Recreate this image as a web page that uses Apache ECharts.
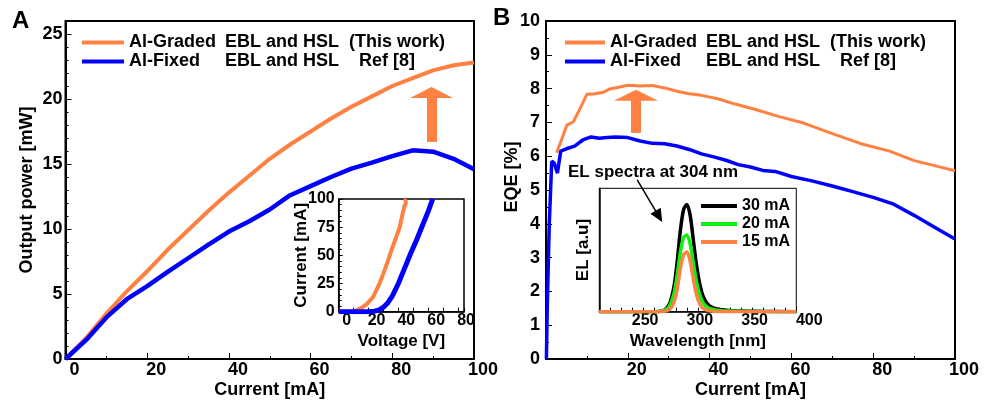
<!DOCTYPE html>
<html>
<head>
<meta charset="utf-8">
<title>Output power and EQE</title>
<script src="https://cdn.jsdelivr.net/npm/echarts@6/dist/echarts.min.js"></script>
<style>
    html, body { margin: 0; padding: 0; background: #fff; }
    #chart { width: 988px; height: 403px; }
</style>
</head>
<body>
<div id="chart"></div>
<script>
// 图A: 输出功率 vs 电流
const currentA = [0, 5, 10, 15, 20, 25, 30, 35, 40, 45, 50, 55, 60, 65, 70, 75, 80, 85, 90, 95, 100];
const powerGraded = [0, 1.6, 3.5, 5.2, 6.75, 8.4, 9.9, 11.4, 12.8, 14.1, 15.4, 16.5, 17.5, 18.5, 19.4, 20.2, 21.0, 21.6, 22.2, 22.6, 22.8];
const powerFixed = [0, 1.45, 3.2, 4.6, 5.6, 6.7, 7.75, 8.8, 9.8, 10.6, 11.5, 12.6, 13.3, 14.0, 14.65, 15.1, 15.6, 16.05, 15.95, 15.4, 14.6];

// 图A插图: I-V
const voltGraded = [0, 10, 13, 16, 19, 23, 27, 30, 33, 36, 39, 40.9, 43, 44.2, 45, 44.8, 45.2];
const ivGraded = [0, 0, 2, 4, 7, 13, 24, 34, 45, 57, 68, 75, 88, 94, 96, 99, 100];
const voltFixed = [0, 10, 20, 24, 27, 30, 33, 36, 40, 44, 48, 52, 56, 60, 63];
const ivFixed = [0, 0, 0, 0.5, 1.5, 4, 8, 14, 25, 38, 51, 63, 76, 89, 100];

// 图B: EQE vs 电流
const currentGradedB = [2.6, 4, 5.1, 6.7, 8.5, 10, 12, 14, 15.6, 18, 20, 23, 26, 29, 32, 35, 38, 42, 46, 51, 57, 63, 70, 77, 84, 90, 95, 100];
const eqeGraded = [6.1, 6.55, 6.92, 7.02, 7.45, 7.83, 7.85, 7.89, 7.99, 8.05, 8.1, 8.08, 8.09, 8.02, 7.92, 7.85, 7.8, 7.7, 7.55, 7.39, 7.17, 6.98, 6.67, 6.37, 6.15, 5.87, 5.72, 5.57];
const currentFixedB = [0.1, 0.3, 0.8, 1.4, 2.0, 2.8, 3.6, 5, 7, 9, 11, 13, 15, 17, 20, 23, 26, 29, 32, 35, 38, 41, 44, 47, 50, 53, 56, 60, 65, 70, 75, 80, 85, 90, 95, 100];
const eqeFixed = [0, 1.5, 4.0, 5.85, 5.8, 5.5, 6.15, 6.22, 6.3, 6.48, 6.57, 6.53, 6.55, 6.57, 6.55, 6.45, 6.38, 6.37, 6.3, 6.2, 6.07, 5.98, 5.88, 5.75, 5.68, 5.58, 5.55, 5.4, 5.27, 5.12, 4.95, 4.78, 4.58, 4.25, 3.9, 3.55];

// 图B插图: EL光谱
const wavelength = [220, 270, 276, 280, 284, 288, 291, 294, 297, 300, 303, 306, 309, 312, 315, 319, 324, 330, 340, 355, 370, 400];
const el30 = [0, 0, 0.005, 0.02, 0.07, 0.22, 0.45, 0.75, 0.95, 1.0, 0.9, 0.66, 0.42, 0.25, 0.14, 0.07, 0.035, 0.02, 0.01, 0.005, 0.002, 0];
const el20 = [0, 0, 0.004, 0.015, 0.05, 0.16, 0.33, 0.55, 0.69, 0.715, 0.63, 0.45, 0.27, 0.15, 0.08, 0.04, 0.02, 0.012, 0.006, 0.003, 0.001, 0];
const el15 = [0, 0, 0, 0.005, 0.02, 0.08, 0.2, 0.4, 0.53, 0.556, 0.47, 0.3, 0.15, 0.07, 0.03, 0.012, 0.005, 0.002, 0, 0, 0, 0];

const nameGraded = 'Al-Graded EBL and HSL (This work)';
const nameFixed = 'Al-Fixed EBL and HSL Ref [8]';

const ORANGE = '#ff8142';
const BLUE = '#0000ff';
const GREEN = '#11ee11';
const FONT = '"Liberation Sans", Arial, sans-serif';

const zip = (xs, ys) => xs.map((x, i) => [x, ys[i]]);

// 坐标轴公共样式
const boldText = (size) => ({ fontFamily: FONT, fontWeight: 'bold', fontSize: size, color: '#000' });

const makeAxis = (opt) => {
    const main = opt.main;
    return {
        type: 'value',
        gridIndex: opt.grid,
        min: opt.min,
        max: opt.max,
        interval: opt.interval,
        name: opt.name,
        nameLocation: 'middle',
        nameGap: opt.nameGap,
        nameMoveOverlap: false,
        nameTextStyle: Object.assign(boldText(main ? 18 : 17), { padding: opt.namePad || 0 }),
        axisLine: { show: true, onZero: false, lineStyle: { color: '#000', width: main ? 2 : 1.5 } },
        axisTick: { show: opt.ticks !== false, inside: true, length: main ? 6 : 4, lineStyle: { color: '#000', width: 1 } },
        minorTick: {
            show: !!opt.minor, splitNumber: opt.minor || 5, length: 3,
            lineStyle: { color: '#000', width: 1 }
        },
        splitLine: { show: false },
        axisLabel: Object.assign({
            show: opt.labels !== false,
            margin: opt.margin,
            padding: opt.pad || 0,
            showMaxLabel: opt.showMax !== false,
            showMinLabel: opt.showMin !== false,
            formatter: opt.fmt
        }, boldText(main ? 18 : 16))
    };
};

const chart = echarts.init(document.getElementById('chart'), null, { renderer: 'canvas' });

const legendRich = {
    a: { width: 96, fontFamily: FONT, fontWeight: 'bold', fontSize: 18, color: '#000' },
    b: { width: 124, fontFamily: FONT, fontWeight: 'bold', fontSize: 18, color: '#000' },
    c: { fontFamily: FONT, fontWeight: 'bold', fontSize: 18, color: '#000' },
    d: { fontFamily: FONT, fontWeight: 'bold', fontSize: 18, color: '#000', padding: [0, 0, 0, 10] }
};
const legendFormatter = (name) => name === nameGraded
    ? '{a|Al-Graded}{b|EBL and HSL}{c|(This work)}'
    : '{a|Al-Fixed}{b|EBL and HSL}{d|Ref [8]}';

const option = {
    animation: false,
    backgroundColor: '#fff',
    grid: [
        { left: 65.5, top: 21, width: 408.5, height: 338, show: true, borderColor: '#000', borderWidth: 2, outerBoundsMode: 'none' },
        { left: 338.7, top: 199, width: 125.3, height: 112.7, show: true, borderColor: '#000', borderWidth: 1.5, backgroundColor: '#fff', outerBoundsMode: 'none' },
        { left: 546, top: 21, width: 409, height: 338, show: true, borderColor: '#000', borderWidth: 2, outerBoundsMode: 'none' },
        { left: 599.3, top: 188.3, width: 197, height: 123.4, show: true, borderColor: '#000', borderWidth: 1, backgroundColor: '#fff', outerBoundsMode: 'none' }
    ],
    xAxis: [
        makeAxis({ grid: 0, main: true, min: 0, max: 100, interval: 20, minor: 2, name: 'Current [mA]', nameGap: 22, margin: 2, pad: [0, 0, 0, 18] }),
        makeAxis({ grid: 1, min: 0, max: 84, interval: 10, name: 'Voltage [V]', nameGap: 21, margin: 1, pad: [0, 0, 0, 16],
            fmt: (v) => (v % 20 === 0 ? String(v) : '') }),
        makeAxis({ grid: 2, main: true, min: 0, max: 100, interval: 20, minor: 2, name: 'Current [mA]', nameGap: 22, margin: 2, pad: [0, 0, 0, 18], showMin: false }),
        makeAxis({ grid: 3, min: 220, max: 400, interval: 10, name: 'Wavelength [nm]', nameGap: 21, margin: 1, pad: [0, 0, 0, 26],
            fmt: (v) => (v % 50 === 0 ? String(v) : '') })
    ],
    yAxis: [
        makeAxis({ grid: 0, main: true, min: 0, max: 26, interval: 5, minor: 5, name: 'Output power [mW]', nameGap: 29, margin: 3, showMax: false }),
        makeAxis({ grid: 1, min: 0, max: 100, interval: 25, minor: 5, name: 'Current [mA]', nameGap: 29, margin: 4 }),
        makeAxis({ grid: 2, main: true, min: 0, max: 10, interval: 1, minor: 2, name: 'EQE [%]', nameGap: 25, margin: 6, namePad: [0, 0, 0, 26] }),
        makeAxis({ grid: 3, min: 0, max: 1.15, interval: 0.5, name: 'EL [a.u]', nameGap: 7, labels: false, ticks: false })
    ],
    legend: [
        {
            left: 82, top: 33, padding: 0, orient: 'vertical', itemGap: 0, itemWidth: 42, itemHeight: 4, icon: 'rect',
            data: [nameGraded, nameFixed], formatter: legendFormatter,
            textStyle: { fontFamily: FONT, fontWeight: 'bold', fontSize: 18, lineHeight: 19, rich: legendRich },
            selectedMode: false
        },
        {
            left: 565, top: 33, padding: 0, orient: 'vertical', itemGap: 0, itemWidth: 40, itemHeight: 4, icon: 'rect',
            data: [nameGraded, nameFixed], formatter: legendFormatter,
            textStyle: { fontFamily: FONT, fontWeight: 'bold', fontSize: 18, lineHeight: 19, rich: legendRich },
            selectedMode: false
        },
        {
            left: 701, top: 197, padding: 0, orient: 'vertical', itemGap: 0, itemWidth: 36, itemHeight: 4, icon: 'rect',
            data: ['30 mA', '20 mA', '15 mA'],
            textStyle: { fontFamily: FONT, fontWeight: 'bold', fontSize: 16, lineHeight: 18, color: '#000' },
            selectedMode: false
        }
    ],
    graphic: [
        { type: 'text', left: 12, top: 9, style: { text: 'A', font: 'bold 24px ' + FONT, fill: '#000' } },
        { type: 'text', left: 493, top: 6, style: { text: 'B', font: 'bold 24px ' + FONT, fill: '#000' } },
        { type: 'text', left: 568, top: 164, style: { text: 'EL spectra at 304 nm', font: 'bold 17px ' + FONT, fill: '#000' } }
    ],
    series: [
        {
            name: nameGraded, type: 'line', xAxisIndex: 0, yAxisIndex: 0, showSymbol: false, color: ORANGE,
            lineStyle: { width: 4 }, data: zip(currentA, powerGraded),
            markLine: {
                silent: true, symbol: ['none', 'triangle'], symbolSize: [43, 11],
                lineStyle: { color: ORANGE, width: 10, type: 'solid' }, label: { show: false },
                data: [[{ coord: [89.6, 16.7] }, { coord: [89.6, 20.5] }]]
            }
        },
        {
            name: nameFixed, type: 'line', xAxisIndex: 0, yAxisIndex: 0, showSymbol: false, color: BLUE,
            lineStyle: { width: 4.5 }, data: zip(currentA, powerFixed)
        },
        {
            name: nameGraded, type: 'line', xAxisIndex: 1, yAxisIndex: 1, showSymbol: false, color: ORANGE,
            lineStyle: { width: 4 }, data: zip(voltGraded, ivGraded)
        },
        {
            name: nameFixed, type: 'line', xAxisIndex: 1, yAxisIndex: 1, showSymbol: false, color: BLUE,
            lineStyle: { width: 5 }, data: zip(voltFixed, ivFixed)
        },
        {
            name: nameGraded, type: 'line', xAxisIndex: 2, yAxisIndex: 2, showSymbol: false, color: ORANGE,
            lineStyle: { width: 3 }, data: zip(currentGradedB, eqeGraded),
            markLine: {
                silent: true, symbol: ['none', 'triangle'], symbolSize: [44, 11],
                lineStyle: { color: ORANGE, width: 10, type: 'solid' }, label: { show: false },
                data: [[{ coord: [22, 6.69] }, { coord: [22, 7.8] }]]
            }
        },
        {
            name: nameFixed, type: 'line', xAxisIndex: 2, yAxisIndex: 2, showSymbol: false, color: BLUE,
            lineStyle: { width: 3.5 }, data: zip(currentFixedB, eqeFixed),
            markLine: {
                silent: true, symbol: ['none', 'triangle'], symbolSize: [12, 13],
                lineStyle: { color: '#000', width: 1.5, type: 'solid' }, label: { show: false },
                data: [[{ coord: [22.3, 5.3] }, { coord: [27.6, 4.22] }]]
            }
        },
        {
            name: '30 mA', type: 'line', xAxisIndex: 3, yAxisIndex: 3, showSymbol: false, color: '#000',
            smooth: 0.3, lineStyle: { width: 3.5 }, data: zip(wavelength, el30)
        },
        {
            name: '20 mA', type: 'line', xAxisIndex: 3, yAxisIndex: 3, showSymbol: false, color: GREEN,
            smooth: 0.3, lineStyle: { width: 3.5 }, data: zip(wavelength, el20)
        },
        {
            name: '15 mA', type: 'line', xAxisIndex: 3, yAxisIndex: 3, showSymbol: false, color: ORANGE,
            smooth: 0.3, lineStyle: { width: 3.5 }, data: zip(wavelength, el15)
        }
    ]
};

chart.setOption(option);
</script>
</body>
</html>
